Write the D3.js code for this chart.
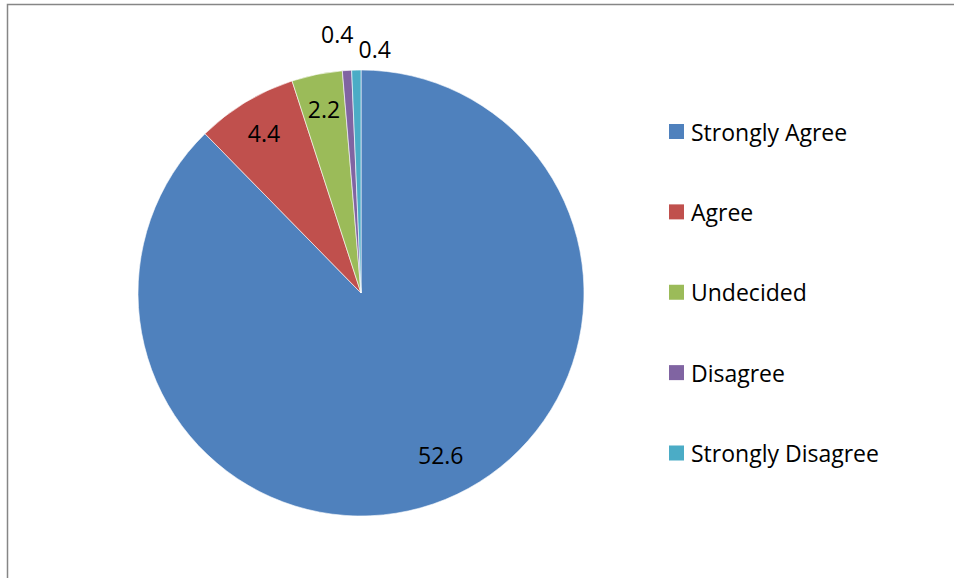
<!DOCTYPE html>
<html>
<head>
<meta charset="utf-8">
<script src="https://cdn.jsdelivr.net/npm/d3@7"></script>
<style>
  body { margin: 0; background: #fff; }
  text { font-family: "Open Sans", "Noto Sans", sans-serif; fill: #000; }
</style>
</head>
<body>
<div class="chart"></div>
<script>
const categories = ["Strongly Agree", "Agree", "Undecided", "Disagree", "Strongly Disagree"];
const values = [52.6, 4.4, 2.2, 0.4, 0.4];
const labels = ["52.6", "4.4", "2.2", "0.4", "0.4"];
const colors = ["#4f81bd", "#c0504d", "#9bbb59", "#8064a2", "#4bacc6"];

const w = 954;
const h = 578;
const cx = 361;
const cy = 293;
const radius = 223;

const pieData = categories.map((c, i) => ({ name: c, value: values[i], label: labels[i] }));

const svg = d3.select(".chart")
    .append("svg")
    .attr("width", w)
    .attr("height", h);

// chart area border (right and bottom edges are cropped off)
svg.append("rect")
    .attr("x", 7.5)
    .attr("y", 4.5)
    .attr("width", w + 20)
    .attr("height", h + 20)
    .attr("fill", "none")
    .attr("stroke", "#868686")
    .attr("stroke-width", 1.5);

const color = d3.scaleOrdinal()
    .domain(categories)
    .range(colors);

const pie = d3.pie()
    .sort(null)
    .value(d => d.value);

const arc = d3.arc()
    .innerRadius(0)
    .outerRadius(radius);

const labelArc = d3.arc()
    .innerRadius(radius * 0.84)
    .outerRadius(radius * 0.84);

const outerArc = d3.arc()
    .innerRadius(radius + 28)
    .outerRadius(radius + 28);

const arcs = svg.append("g")
    .attr("transform", `translate(${cx},${cy})`)
    .selectAll(".arc")
    .data(pie(pieData))
    .enter()
    .append("g")
    .attr("class", "arc");

arcs.append("path")
    .attr("fill", d => color(d.data.name))
    .attr("stroke", "#fff")
    .attr("stroke-width", 0.6)
    .attr("d", arc);

// small slices get their labels outside, nudged apart like Excel does
let smallCount = 0;
arcs.append("text")
    .attr("transform", d => {
        const span = d.endAngle - d.startAngle;
        if (span > Math.PI) {
            // the big slice label sits a bit further round, like Excel's best fit
            const c = labelArc.centroid(d);
            return `translate(${c[0] + 9},${c[1] - 11})`;
        }
        if (span > 0.15) {
            const c = labelArc.centroid(d);
            return `translate(${c[0]},${c[1]})`;
        }
        const c = outerArc.centroid(d);
        const nudge = smallCount++ % 2 === 0 ? [-8, -8] : [19, 7];
        return `translate(${c[0] + nudge[0]},${c[1] + nudge[1]})`;
    })
    .attr("text-anchor", "middle")
    .attr("dominant-baseline", "central")
    .style("font-size", "23px")
    .text(d => d.data.label);

// legend
const legendY = d3.scalePoint()
    .domain(categories)
    .range([131.5, 453]);

const legend = svg.append("g")
    .selectAll(".legend")
    .data(categories)
    .enter()
    .append("g")
    .attr("class", "legend")
    .attr("transform", d => `translate(669,${legendY(d)})`);

legend.append("rect")
    .attr("x", 0)
    .attr("y", -7.5)
    .attr("width", 15)
    .attr("height", 15)
    .attr("fill", d => color(d));

legend.append("text")
    .attr("x", 22)
    .attr("y", 0)
    .attr("dominant-baseline", "central")
    .style("font-size", "23px")
    .text(d => d);
</script>
</body>
</html>
